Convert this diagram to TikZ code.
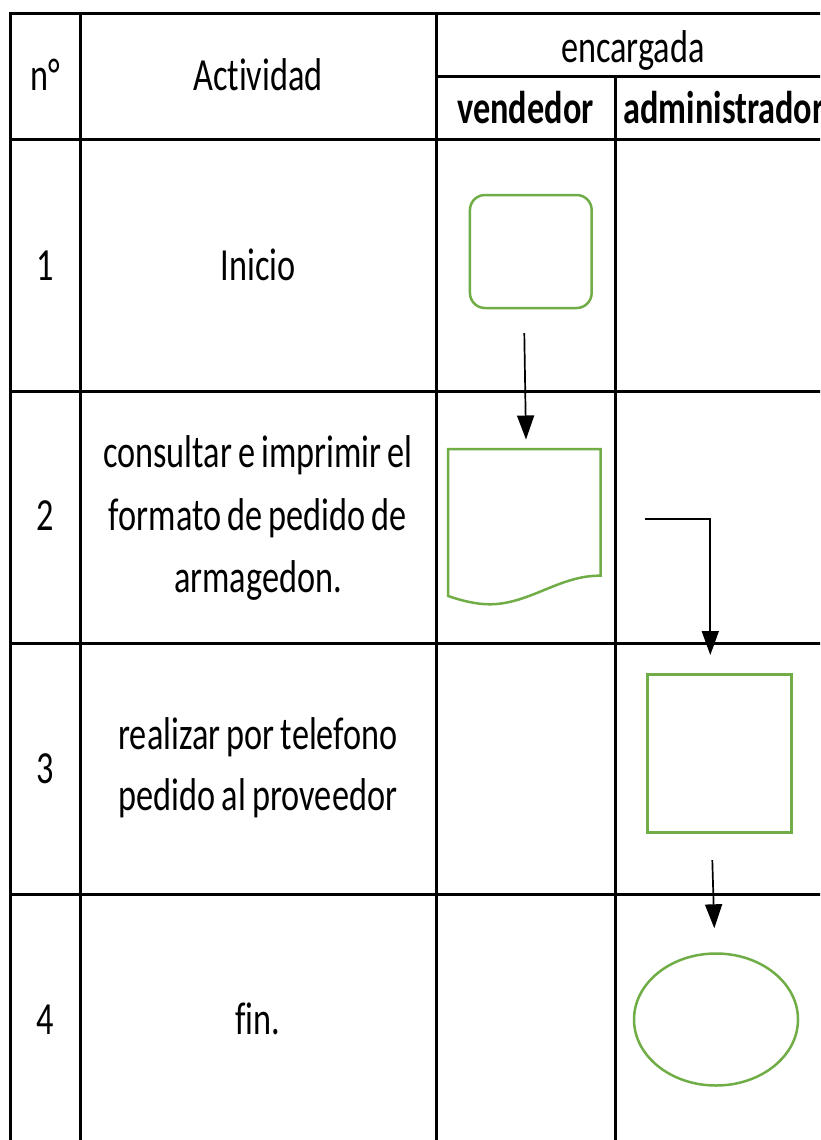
\documentclass[tikz,border=0pt]{standalone}
\usepackage{fontspec}
\setmainfont{Carlito}[FakeStretch=0.745, Ligatures=NoCommon, WordSpace=0.8]
\usetikzlibrary{arrows.meta,shapes.geometric}
\definecolor{flowgreen}{HTML}{70AD47}
\begin{document}
\begin{tikzpicture}[x=1pt,y=-1pt,
  grid/.style={line width=3pt, black, line cap=rect},
  shapeline/.style={draw=flowgreen, line width=2.5pt},
  txt/.style={anchor=base, inner sep=0pt, font=\fontsize{46}{62}\selectfont},
  btxt/.style={anchor=base, inner sep=0pt, font=\fontsize{46}{62}\selectfont\bfseries},
  flow/.style={line width=1.7pt, black, -{Triangle[width=17pt,length=24pt]}}]
\useasboundingbox (0,0) rectangle (820,1140);
\clip (0,0) rectangle (820,1140);
% grid
\draw[grid] (10.5,14) -- (830,14);
\draw[grid] (436,76) -- (830,76);
\foreach \yy in {139,391,643,894} \draw[grid] (10.5,\yy) -- (830,\yy);
\draw[grid] (10.5,14) -- (10.5,1150);
\draw[grid] (80.5,14) -- (80.5,1150);
\draw[grid] (436,14) -- (436,1150);
\draw[grid] (615,76) -- (615,1150);
\draw[grid] (830,14) -- (830,1150);
% header
\node[txt] (hn) at (45,90) {n°};
\node[txt] (hact) at (258,90) {Actividad};
\node[txt] (henc) at (633,63) {encargada};
\node[btxt] (hven) at (525.5,123) {vendedor};
\node[btxt] (hadm) at (724,123) {administrador};
% rows
\node[txt] (n1) at (45,280) {1};
\node[txt] (n2) at (45,530) {2};
\node[txt] (n3) at (45,783) {3};
\node[txt] (n4) at (45,1034) {4};
\node[txt] (act1) at (258,280) {Inicio};
\node[txt] (act2a) at (258,467.7) {consultar e imprimir el};
\node[txt] (act2b) at (258,530) {formato de pedido de};
\node[txt] (act2c) at (258,592) {armagedon.};
\node[txt] (act3a) at (258,749) {realizar por telefono};
\node[txt] (act3b) at (258,810) {pedido al proveedor};
\node[txt] (act4) at (258,1034) {fin.};
% shapes
\node[shapeline, rounded corners=15pt, minimum width=121.7pt, minimum height=113pt, inner sep=0pt] (inicio) at (530.8,251.5) {};
\draw[shapeline] (448,449) -- (600.7,449) -- (600.7,575.7)
  .. controls (560,575) and (530,604) .. (490,604.3)
  .. controls (475,604.4) and (460,600) .. (448,596) -- cycle;
\coordinate (doc) at (524.4,449);
\node[shapeline, minimum width=144pt, minimum height=158pt, inner sep=0pt] (proc) at (719.3,753.3) {};
\node[shapeline, ellipse, minimum width=164pt, minimum height=132pt, inner sep=0pt] (fin) at (716,1019.5) {};
% connectors
\coordinate (a1s) at (524.3,333);
\coordinate (a1e) at (526,439.5);
\draw[flow] (a1s) -- (a1e);
\coordinate (a2s) at (645.3,518.7);
\coordinate (a2e) at (710.3,655);
\draw[flow] (a2s) -| (a2e);
\coordinate (a3s) at (712.3,860);
\coordinate (a3e) at (714.3,928.3);
\draw[flow] (a3s) -- (a3e);
\end{tikzpicture}
\end{document}
